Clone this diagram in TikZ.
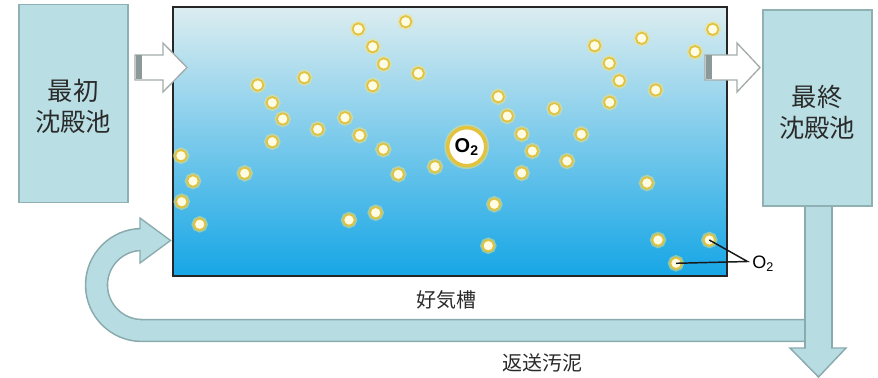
\documentclass[tikz,border=0pt]{standalone}
\usepackage{fontspec}
\newfontfamily\cjk{Noto Sans CJK JP}
\newfontfamily\lsans{Liberation Sans}
\usetikzlibrary{calc}
\definecolor{boxfill}{HTML}{B9DFE4}
\definecolor{boxline}{HTML}{8FB1B4}
\definecolor{bandfill}{HTML}{B7DDE2}
\definecolor{bandline}{HTML}{8AABAE}
\definecolor{tanktop}{HTML}{DCEDF0}
\definecolor{tankmid}{HTML}{8ECAEB}
\definecolor{tankbot}{HTML}{16A6E6}
\definecolor{ring}{HTML}{E3C23C}
\definecolor{glow}{HTML}{F4E27A}
\definecolor{core}{HTML}{FFFCE6}
\definecolor{txt}{HTML}{2A2A2A}
\definecolor{arrline}{HTML}{A3ABAB}
\definecolor{arrdark}{HTML}{8C9999}
\begin{document}
\begin{tikzpicture}[x=0.75pt,y=-0.75pt,
  settler/.style={rectangle, fill=boxfill, draw=boxline, line width=1.2pt,
    minimum width=81.75pt, inner sep=0pt},
  settlertext/.style={align=center, text=txt, inner sep=0pt,
    font=\cjk\fontsize{19}{23.5}\selectfont},
  tankbox/.style={rectangle, draw=black!85, line width=1.5pt, top color=tanktop,
    middle color=tankmid, bottom color=tankbot, minimum width=415.5pt,
    minimum height=201.75pt, inner sep=0pt},
  bub/.style={circle, inner sep=0pt, minimum size=8.5pt, fill=core, draw=ring,
    line width=1.3pt, preaction={draw=glow, line width=3.8pt, draw opacity=0.5}},
  flowarr/.style={fill=white, draw=arrline, line width=1pt, line join=miter},
  label/.style={text=txt, font=\cjk\fontsize{15}{18}\selectfont, inner sep=0pt},
  leader/.style={draw=black!90, line width=1.1pt}
]
\useasboundingbox (0,0) rectangle (878,378);

% ---- return sludge band (behind everything) ----
\coordinate (rs) at (806,330.5);
\coordinate (rl) at (142,330.5);
\draw[bandline, line width=17.6pt] (rs) -- (rl) arc[start angle=90,end angle=270,radius=45.5] -- (141,239.5);
\draw[flowarr, fill=bandfill, draw=bandline] (140,218) -- (170.5,240.5) -- (140,263) -- cycle;
\draw[bandfill, line width=15.2pt] (rs) -- (rl) arc[start angle=90,end angle=270,radius=45.5] -- (143,239.5);

% ---- down arrow ----
\draw[fill=bandfill, draw=bandline, line width=1.1pt] (805,205) rectangle (832,349);
\draw[fill=bandfill, draw=bandline, line width=1.1pt, line join=miter] (790,348) -- (846,348) -- (818.5,377) -- cycle;
\fill[bandfill] (805.8,345) rectangle (831.2,350);

% ---- settlers ----
\node[settler, minimum height=148.5pt] (first) at (73.5,103.5) {};
\node[settlertext] (firsttxt) at (73,106.5) {最初\\沈殿池};
\node[settler, minimum height=147pt] (final) at (817.5,108) {};
\node[settlertext] (finaltxt) at (817,112.5) {最終\\沈殿池};

% ---- aeration tank ----
\node[tankbox] (tank) at (450,141.5) {};

% ---- inlet / outlet arrows ----
\draw[flowarr] (135,55) -- (163,55) -- (163,43) -- (187,67.5) -- (163,92) -- (163,80) -- (135,80) -- cycle;
\fill[arrdark] (135.5,55.5) rectangle (142,79.5);
\draw[flowarr] (705,55) -- (737,55) -- (737,43) -- (760,67.5) -- (737,92) -- (737,80) -- (705,80) -- cycle;
\fill[arrdark] (705.5,55.5) rectangle (712,79.5);

% ---- bubbles ----
\foreach \x/\y [count=\i] in {
 405.7/21.7, 358.3/29, 372.7/46.7, 383.7/64, 418.3/73.3, 304.3/77.7, 257.7/85,
 372.7/85.7, 272.3/102.7, 282.7/119, 345/117.7, 317.7/129.3, 359.7/135.3,
 272.3/141.7, 383.3/149.3, 181/155.7, 435/166.7, 244.7/173.3, 398.3/174.3,
 193/181, 181.7/201.7, 375.7/212.7, 349/220, 199.7/224.3,
 712.7/29.3, 641.7/38.3, 594.7/45.7, 695/51.7, 609.3/63.3, 619.3/80.7,
 655.7/90, 498.3/96.7, 554.3/108.7, 609.7/102.3, 507.3/116, 521.7/134,
 581.3/134.3, 532.3/151, 567/161, 521.7/173, 647/183, 494.3/204.3,
 658/240, 488.3/245.7}
 { \node[bub] (b\i) at (\x,\y) {}; }
\node[bub] (bA) at (709.3,240) {};
\node[bub] (bB) at (676,263.3) {};

% ---- big O2 bubble ----
\node[circle, fill=white, draw=ring, line width=2.6pt, minimum size=28.5pt, inner sep=0pt,
  preaction={draw=glow, line width=5pt, draw opacity=0.5},
  font=\lsans\bfseries\fontsize{15}{16}\selectfont, text=black] (bigo) at (466.7,146.7)
  {O\textsubscript{2}};

% ---- O2 leader ----
\coordinate (v) at (747.5,261.5);
\draw[leader] (bA.center) -- (v) -- (bB.center);
\node[anchor=west, inner sep=0pt, text=black, font=\lsans\fontsize{13.5}{16}\selectfont] (o2) at (752,264) {O\textsubscript{2}};

% ---- labels ----
\node[label] (tanklbl) at (446.5,300) {好気槽};
\node[label] (rslbl) at (542,363) {返送汚泥};
\end{tikzpicture}
\end{document}
